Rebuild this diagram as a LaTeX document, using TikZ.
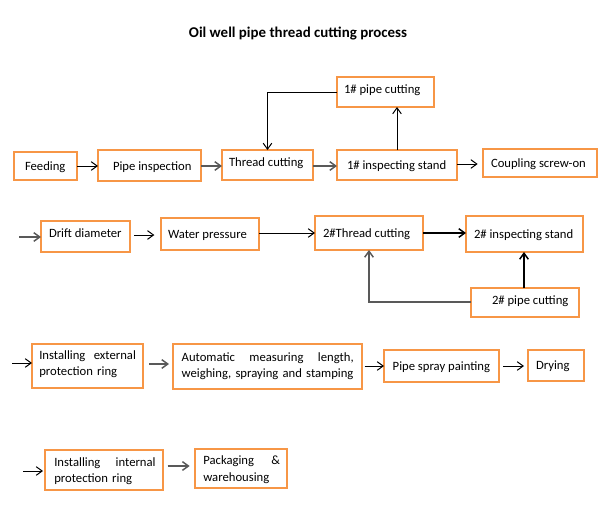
\documentclass[tikz,border=0pt]{standalone}
\usepackage{fontspec}
\setmainfont{Carlito}
\usetikzlibrary{arrows.meta,fit,calc}
\definecolor{boxor}{HTML}{F79646}
\begin{document}
\begin{tikzpicture}[x=0.75pt,y=-0.75pt,
  box/.style={draw=boxor,line width=1.5pt,inner sep=0pt,outer sep=0pt,rectangle},
  txt/.style={anchor=base west,inner sep=0pt,outer sep=0pt,font=\fontsize{9.5}{12.5}\selectfont},
  txtb/.style={anchor=north west,inner sep=0pt,outer sep=0pt,font=\fontsize{9.5}{12.5}\selectfont,align=left},
  arr/.style={-{Straight Barb[length=4.5pt,width=6.5pt]},line width=0.75pt,black},
  garr/.style={-{Straight Barb[length=4.5pt,width=6.5pt]},line width=1.1pt,black!65},
  barr/.style={-{Straight Barb[length=4.5pt,width=6.5pt]},line width=1.1pt,black}]
\useasboundingbox (0,0) rectangle (614,526);
\fill[white] (0,0) rectangle (614,526);

\node[anchor=center,inner sep=0pt,font=\fontsize{11.2}{13}\selectfont\bfseries] (title) at (298,34) {Oil well pipe thread cutting process};

% row 1
\node[box,fit={(14,152)(77,180)}] (feed) {};
\node[box,fit={(98,150)(201,181)}] (pinsp) {};
\node[box,fit={(222,150)(313,180)}] (thread) {};
\node[box,fit={(337,77)(434,107)}] (pcut1) {};
\node[box,fit={(337,150)(457,180)}] (insp1) {};
\node[box,fit={(483,149)(597,177)}] (coup) {};
\node[txt] (tfeed) at (25,170.5) {Feeding};
\node[txt] (tpinsp) at (113,170.5) {Pipe inspection};
\node[txt] (tthread) at (229,166) {Thread cutting};
\node[txt] (tpcut1) at (344,93.3) {1\# pipe cutting};
\node[txt] (tinsp1) at (347,169.3) {1\# inspecting stand};
\node[txt] (tcoup) at (491,167.3) {Coupling screw-on};

% row 2
\node[box,fit={(41,221)(130,252)}] (drift) {};
\node[box,fit={(161,218)(259,250)}] (water) {};
\node[box,fit={(315,216)(423,250)}] (thread2) {};
\node[box,fit={(466,216)(583,252)}] (insp2) {};
\node[box,fit={(471,288)(579,317)}] (pcut2) {};
\node[txt] (tdrift) at (49,237.3) {Drift diameter};
\node[txt] (twater) at (168,238.7) {Water pressure};
\node[txt] (tthread2) at (323,237.3) {2\#Thread cutting};
\node[txt] (tinsp2) at (474,238.3) {2\# inspecting stand};
\node[txt] (tpcut2) at (492,304) {2\# pipe cutting};

% row 3
\node[box,fit={(32,344)(143,388)}] (ext) {};
\node[box,fit={(173,344)(362,389)}] (auto) {};
\node[box,fit={(384,350)(499,382)}] (spray) {};
\node[box,fit={(528,350)(584,381)}] (dry) {};
\node[txtb,text width=72.5pt] (text) at (39.3,350.5) {Installing\hfill external\\protection ring};
\node[txtb,text width=129pt] (tauto) at (181.7,352.2) {Automatic\hfill measuring\hfill length,\\weighing, spraying and stamping};
\node[txt] (tspray) at (392.7,370) {Pipe spray painting};
\node[txt] (tdry) at (536,369.3) {Drying};

% row 4
\node[box,fit={(45,450)(163,490)}] (int) {};
\node[box,fit={(195,449)(287,488)}] (pack) {};
\node[txtb,text width=76pt] (tint) at (54.3,457.2) {Installing\hfill internal\\protection ring};
\node[txtb,text width=57.5pt] (tpack) at (203.3,455.8) {Packaging\hfill \&\\warehousing};

% free ends
\coordinate (in2) at (19,237);
\coordinate (in3) at (12,363);
\coordinate (in4) at (23,471);

% connectors row 1
\draw[arr] (feed.east |- 0,166) -- (pinsp.west |- 0,166);
\draw[garr] (pinsp.east |- 0,166) -- (thread.west |- 0,166);
\draw[garr] (thread.east |- 0,166) -- (insp1.west |- 0,166);
\draw[arr,shorten >=4pt] (insp1.east |- 0,164) -- (coup.west |- 0,164);
\draw[arr] (insp1.north -| 397,0) -- (pcut1.south -| 397,0);
\draw[arr] (pcut1.west |- 0,92) -| (thread.north);

% row 2
\draw[garr] (in2) -- (drift.west |- in2);
\draw[arr,shorten <=3pt,shorten >=5pt] (drift.east |- 0,235) -- (water.west |- 0,235);
\draw[arr] (water.east |- 0,233) -- (thread2.west |- 0,233);
\draw[barr] (thread2.east |- 0,233) -- (insp2.west |- 0,233);
\draw[barr] (pcut2.north -| 524,0) -- (insp2.south -| 524,0);
\draw[garr] (pcut2.west |- 0,302) -| (thread2.south);

% row 3
\draw[arr] (in3) -- (ext.west |- in3);
\draw[garr,shorten <=4.5pt,shorten >=3pt] (ext.east |- 0,364) -- (auto.west |- 0,364);
\draw[arr,shorten <=2pt] (auto.east |- 0,366) -- (spray.west |- 0,366);
\draw[arr,shorten <=3pt,shorten >=3pt] (spray.east |- 0,366) -- (dry.west |- 0,366);

% row 4
\draw[arr,shorten >=1.5pt] (in4) -- (int.west |- in4);
\draw[garr,shorten <=3.5pt,shorten >=4pt] (int.east |- 0,466) -- (pack.west |- 0,466);
\end{tikzpicture}
\end{document}
